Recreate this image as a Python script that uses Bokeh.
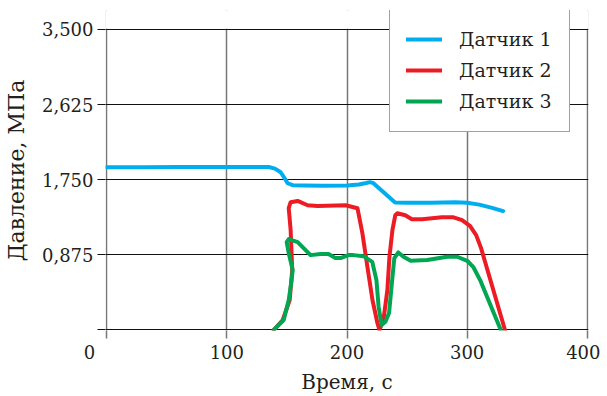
from bokeh.plotting import figure
from bokeh.models import FixedTicker, Range1d, Legend, BoxAnnotation
from bokeh.embed import file_html
from bokeh.resources import INLINE

# ---- data ----
t1 = [0, 30, 60, 90, 120, 134.9, 140, 144.8, 148.1, 150.6, 154.8, 165, 180, 200, 210, 216, 219, 222, 230, 240, 250, 270, 290, 300, 310, 320, 330]
p1 = [1895, 1896, 1897, 1898, 1899, 1898, 1880, 1837, 1767, 1709, 1686, 1682, 1680, 1684, 1695, 1712, 1722, 1710, 1610, 1485, 1482, 1483, 1488, 1482, 1460, 1425, 1385]

t2 = [139, 146.5, 152.3, 154.4, 153.1, 151.5, 153.1, 158.9, 167.2, 175.5, 198.8, 208.7, 212.8, 217, 221.2, 225.3, 227, 230.3, 233.6, 235.3, 237.8, 240.2, 241.9, 248.5, 254, 262.5, 279, 288, 295.8, 302.5, 307.5, 311.6, 331.5]
p2 = [0, 116, 349, 698, 1163, 1419, 1488, 1503, 1453, 1445, 1453, 1418, 1128, 733, 349, 81, 0, 116, 465, 849, 1163, 1337, 1360, 1337, 1290, 1290, 1314, 1314, 1279, 1209, 1105, 953, 0]

t3 = [139, 147.3, 151.5, 153.9, 154.8, 151.5, 149.8, 151.5, 158.9, 163.9, 169.7, 178, 184.6, 190.4, 194.6, 201.2, 205.4, 213.7, 221, 224.5, 226.3, 228.8, 232, 235, 237.6, 239.4, 242.7, 247, 253, 266.8, 283.4, 291.7, 300, 305, 310.8, 328]
p3 = [0, 116, 349, 581, 698, 895, 1023, 1058, 1023, 953, 872, 884, 884, 837, 837, 872, 872, 860, 794, 581, 271, 58, 97, 198, 581, 837, 903, 853, 806, 814, 853, 853, 806, 736, 581, 0]

x_ticks = [0, 100, 200, 300, 400]
x_tick_labels = ["0", "100", "200", "300", "400"]
y_ticks = [0, 875, 1750, 2625, 3500]
y_tick_labels = ["", "0,875", "1,750", "2,625", "3,500"]
series_names = ["Датчик 1", "Датчик 2", "Датчик 3"]
series_colors = ["#00AEEF", "#ED1C24", "#00A651"]

FONT = "DejaVu Serif"
TXT = "#231F20"
NBSP = "\u00a0"

# frame reaches a little above 3500 so that the legend (which pokes above the top line) is not clipped
p = figure(width=600, height=396, output_backend="svg", toolbar_location=None,
           x_range=Range1d(-1, 401), y_range=Range1d(-6, 3721),
           min_border_left=104, min_border_right=12, min_border_top=10, min_border_bottom=66)
p.outline_line_color = None
p.background_fill_color = "white"

# axes
p.xaxis.ticker = FixedTicker(ticks=x_ticks)
p.yaxis.ticker = FixedTicker(ticks=y_ticks)
p.yaxis.major_label_overrides = {k: v for k, v in zip(y_ticks, y_tick_labels)}
xo = {k: v for k, v in zip(x_ticks, x_tick_labels)}
xo[0] = xo[0] + NBSP * 6   # the reference sets its "0" left of the tick
p.xaxis.major_label_overrides = xo
for ax in (p.xaxis, p.yaxis):
    ax.axis_line_color = None
    ax.minor_tick_line_color = None
    ax.major_tick_in = 0
    ax.major_tick_out = 8
    ax.major_label_text_font = FONT
    ax.major_label_text_color = TXT
    ax.major_label_text_font_size = "18px"
    ax.axis_label_text_font = FONT
    ax.axis_label_text_font_style = "normal"
    ax.axis_label_text_color = TXT
p.xaxis.axis_label_text_font_size = "20px"
p.yaxis.axis_label_text_font_size = "22px"
p.xaxis.major_tick_line_color = "#777777"
p.xaxis.major_tick_line_width = 1.5
p.yaxis.major_tick_line_color = "#111111"
p.xaxis.major_label_standoff = 3
p.yaxis.major_label_standoff = 4
p.xaxis.axis_label = "Время, с"
p.yaxis.axis_label = "Давление, МПа"
p.xaxis.axis_label_standoff = 4
p.yaxis.axis_label_standoff = 10

# grids
p.xgrid.ticker = FixedTicker(ticks=x_ticks)
p.ygrid.ticker = FixedTicker(ticks=y_ticks)
p.xgrid.grid_line_color = "#777777"
p.xgrid.grid_line_width = 1.5
p.ygrid.grid_line_color = "#111111"
p.ygrid.grid_line_width = 1

# blank out the strip above the 3500 line
p.add_layout(BoxAnnotation(bottom=3508, fill_color="white", fill_alpha=1, line_color=None))

# lines
renderers = []
for tt, pp, c in zip([t1, t2, t3], [p1, p2, p3], series_colors):
    r = p.line(tt, pp, line_color=c, line_width=4, line_join="round", line_cap="round")
    renderers.append(r)

legend = Legend(items=[(n, [r]) for n, r in zip(series_names, renderers)],
                location=(284, 198))
legend.label_text_font = FONT
legend.label_text_font_size = "19px"
legend.label_text_color = TXT
legend.glyph_width = 36
legend.glyph_height = 28
legend.label_height = 28
legend.label_width = 94
legend.label_standoff = 17
legend.spacing = 3
legend.padding = 16
legend.margin = 0
legend.border_line_color = "#444444"
legend.border_line_width = 1.5
legend.background_fill_color = "white"
legend.background_fill_alpha = 1
p.add_layout(legend)

open("out.html", "w").write(file_html(p, INLINE))
